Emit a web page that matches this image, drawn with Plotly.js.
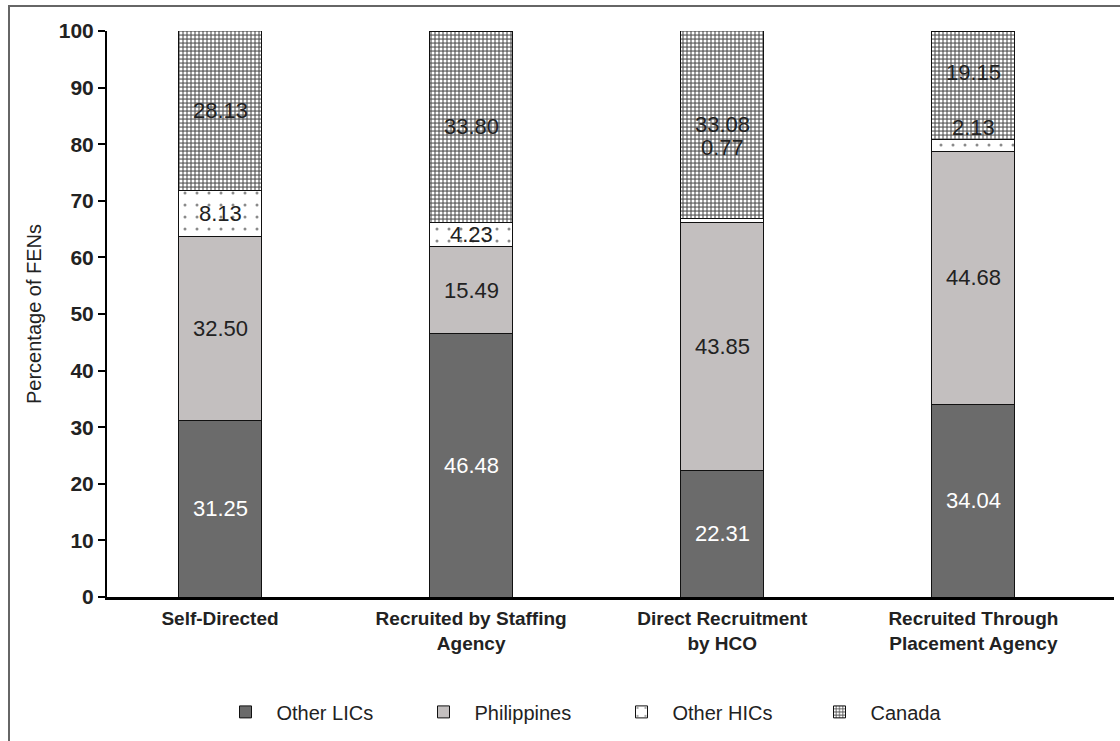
<!DOCTYPE html>
<html>
<head>
<meta charset="utf-8">
<script src="https://cdn.plot.ly/plotly-3.0.1.min.js"></script>
<style>
  html, body { margin: 0; padding: 0; background: #fff; }
  #wrap { position: relative; width: 1120px; height: 741px; overflow: hidden; }
  #frame { position: absolute; left: 8px; top: 5px; width: 1200px; height: 800px;
           border-left: 2px solid #666; border-top: 2px solid #666; pointer-events: none; z-index: 5; }
  #chart { position: absolute; left: 0; top: 0; width: 1120px; height: 741px; }
</style>
</head>
<body>
<div id="wrap">
  <div id="chart"></div>
  <div id="frame"></div>
</div>
<script>
const categories = [
  "Self-Directed",
  "Recruited by Staffing<br>Agency",
  "Direct Recruitment<br>by HCO",
  "Recruited Through<br>Placement Agency"
];
const seriesNames = ["Other LICs", "Philippines", "Other HICs", "Canada"];
const otherLICs   = [31.25, 46.48, 22.31, 34.04];
const philippines = [32.50, 15.49, 43.85, 44.68];
const otherHICs   = [8.13, 4.23, 0.77, 2.13];
const canada      = [28.13, 33.80, 33.08, 19.15];
const yTicks = [0, 10, 20, 30, 40, 50, 60, 70, 80, 90, 100];

const seriesValues = [otherLICs, philippines, otherHICs, canada];

const styles = [
  { color: "#6b6b6b", pattern: null, textColor: "#ffffff" },
  { color: "#c3bfbf", pattern: null, textColor: "#222222" },
  { color: "#ffffff", pattern: { shape: ".", fgcolor: "#8a8a8a", bgcolor: "#ffffff", size: 12, solidity: 0.05, fillmode: "replace" }, textColor: "#222222" },
  { color: "#7a7a7a", pattern: { shape: ".", fgcolor: "#ffffff", bgcolor: "#707070", size: 4, solidity: 0.45, fillmode: "replace" }, textColor: "#222222" }
];
// vertical nudges (px) for labels
const labelShift = [
  [0, 0, 0, 0],
  [0, 0, 0, 0],
  [0, 0, 73, 18],
  [0, 0, 0, 13]
];

const traces = seriesValues.map((vals, i) => {
  const m = { color: styles[i].color, line: { color: "#111", width: 1 } };
  if (styles[i].pattern) m.pattern = styles[i].pattern;
  return {
    type: "bar",
    name: seriesNames[i],
    x: categories,
    y: vals,
    width: 0.33,
    marker: m,
    hoverinfo: "skip"
  };
});

const annotations = [];
categories.forEach((c, j) => {
  let base = 0;
  seriesValues.forEach((vals, i) => {
    const v = vals[j];
    annotations.push({
      x: c, y: base + v / 2, xref: "x", yref: "y",
      text: v.toFixed(2), showarrow: false,
      yshift: labelShift[i][j],
      font: { family: "Liberation Sans, Arial, sans-serif", size: 22, color: styles[i].textColor }
    });
    base += v;
  });
});

const layout = {
  width: 1120, height: 741,
  margin: { l: 107, r: 6, t: 31, b: 144 },
  paper_bgcolor: "#ffffff", plot_bgcolor: "#ffffff",
  barmode: "stack",
  bargap: 0,
  font: { family: "Liberation Sans, Arial, sans-serif", color: "#222" },
  showlegend: true,
  legend: {
    orientation: "h", x: 0.5, xanchor: "center", y: -0.203, yanchor: "middle",
    font: { size: 20, color: "#222" }, traceorder: "normal",
    itemwidth: 52, entrywidth: 131, entrywidthmode: "pixels"
  },
  xaxis: {
    type: "category",
    range: [-0.45, 3.56],
    showline: true, linecolor: "#000", linewidth: 2.5,
    ticks: "", showgrid: false, zeroline: false,
    ticklabelstandoff: 3,
    tickfont: { size: 19, color: "#222", weight: "bold", lineposition: "none" }
  },
  yaxis: {
    range: [0, 100],
    tickvals: yTicks,
    ticktext: yTicks.map(String),
    showline: true, linecolor: "#000", linewidth: 2,
    ticks: "outside", ticklen: 7, tickwidth: 2, tickcolor: "#000",
    showgrid: false, zeroline: false,
    tickfont: { size: 21, color: "#222", weight: "bold" },
    title: { text: "Percentage of FENs", font: { size: 20, color: "#222" }, standoff: 12 }
  },
  annotations: annotations
};

Plotly.newPlot("chart", traces, layout, { displayModeBar: false, staticPlot: true });
</script>
</body>
</html>
